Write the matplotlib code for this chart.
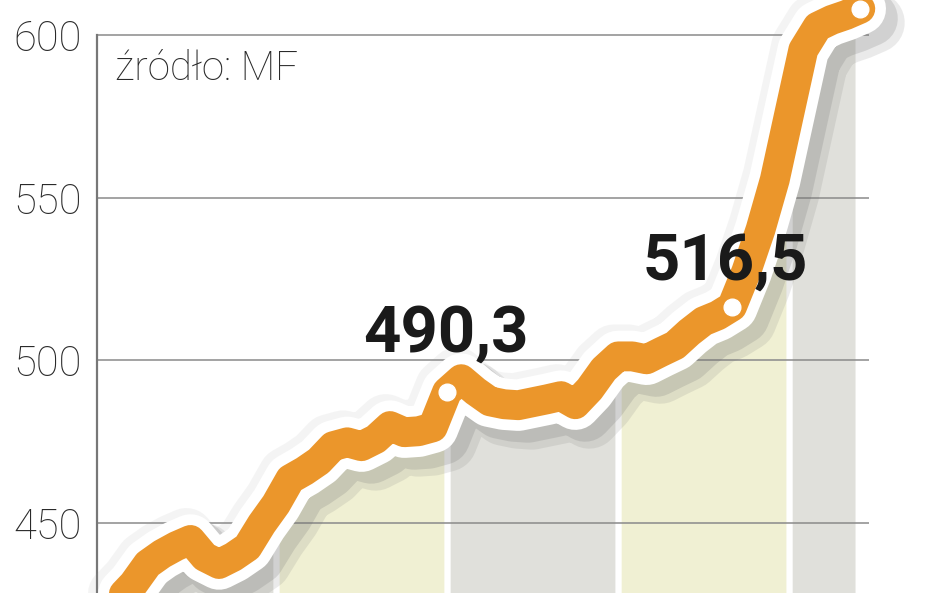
import numpy as np
import matplotlib.pyplot as plt
import matplotlib.patheffects as pe

# zadłużenie, mld zł (odczyt z wykresu, dane miesięczne)
miesiace = np.arange(54)
dlug = [422.0, 426.7, 431.3, 437.4, 440.5, 442.9, 444.8, 439.6, 437.4, 439.6,
        442.6, 449.7, 455.8, 463.5, 466.0, 469.0, 473.6, 474.8, 473.6, 475.8,
        479.8, 477.9, 478.2, 479.4, 490.3, 494.2, 490.5, 487.4, 486.5, 486.2,
        487.1, 488.0, 489.0, 486.5, 491.1, 497.2, 501.2, 501.2, 500.3, 502.5,
        504.6, 508.6, 512.0, 513.8, 516.5, 527.3, 540.2, 555.5, 575.5, 595.4,
        602.5, 604.6, 606.1, 608.0]
punkty = [24, 44, 53]
etykiety = ["490,3", "516,5"]
granice_lat = [0, 12, 24, 36, 48, 52.85]
kolory_pasow = ['#E0E0DB', '#F0F0D3']
os_y = [450, 500, 550, 600]

pomaranczowy = '#EB962B'

fig = plt.figure(figsize=(9.48, 5.93), dpi=100)
ax = fig.add_axes([97 / 948, 0, (869 - 97) / 948, 1])
ax.set_xlim(-0.56, 53.61)
ax.set_ylim(428.5, 610.7)

# pasy lat pod linią
for i in range(len(granice_lat) - 1):
    x0 = granice_lat[i] + 0.22
    x1 = granice_lat[i + 1] - 0.22
    xs = np.linspace(x0, x1, 200)
    ys = np.interp(xs, miesiace, dlug)
    ax.fill_between(xs, 428.5, ys, color=kolory_pasow[i % 2], lw=0, zorder=1)

# siatka
for v in os_y:
    ax.axhline(v, color='#8A8A8A', lw=1.1, zorder=2)

# linia z obwódką i cieniem
efekty = [
    pe.SimpleLineShadow(offset=(10, -10), shadow_color='#707070', alpha=0.14, linewidth=44),
    pe.SimpleLineShadow(offset=(7, -7), shadow_color='#707070', alpha=0.2, linewidth=40),
    pe.SimpleLineShadow(offset=(-3, 3), shadow_color='#9A9A9A', alpha=0.10, linewidth=40),
    pe.Stroke(linewidth=37, foreground='white'),
    pe.Normal(),
]
ax.plot(miesiace, dlug, color=pomaranczowy, lw=21.5, solid_joinstyle='round',
        solid_capstyle='round', zorder=3, clip_on=False, path_effects=efekty)

ax.plot(miesiace[punkty], np.array(dlug)[punkty], 'o', color='white', ms=12,
        mec='white', zorder=4, clip_on=False)

# podpisy wartości
ax.text(18.1, 502.6, etykiety[0], fontsize=47, fontweight='bold', family='Roboto',
        color='#1A1A1A', ha='left', va='baseline', zorder=5)
ax.text(37.75, 524.8, etykiety[1], fontsize=47, fontweight='bold', family='Roboto',
        color='#1A1A1A', ha='left', va='baseline', zorder=5)

fig.text(115 / 948, 1 - 80 / 593, 'źródło: MF', fontsize=29, family='Roboto',
         fontweight='light', color='#2A2A2A', ha='left', va='baseline')

# osie
ax.set_yticks(os_y)
ax.set_yticklabels([str(v) for v in os_y], fontsize=30, family='Roboto',
                   fontweight='light', color='#2A2A2A')
ax.tick_params(axis='y', length=0, pad=11)
ax.set_xticks([])
for s in ['top', 'right', 'bottom']:
    ax.spines[s].set_visible(False)
ax.spines['left'].set_color('#777777')
ax.spines['left'].set_linewidth(1.6)
ax.spines['left'].set_bounds(428.5, 600)
ax.patch.set_alpha(0)

plt.savefig('out.png', dpi=100)
